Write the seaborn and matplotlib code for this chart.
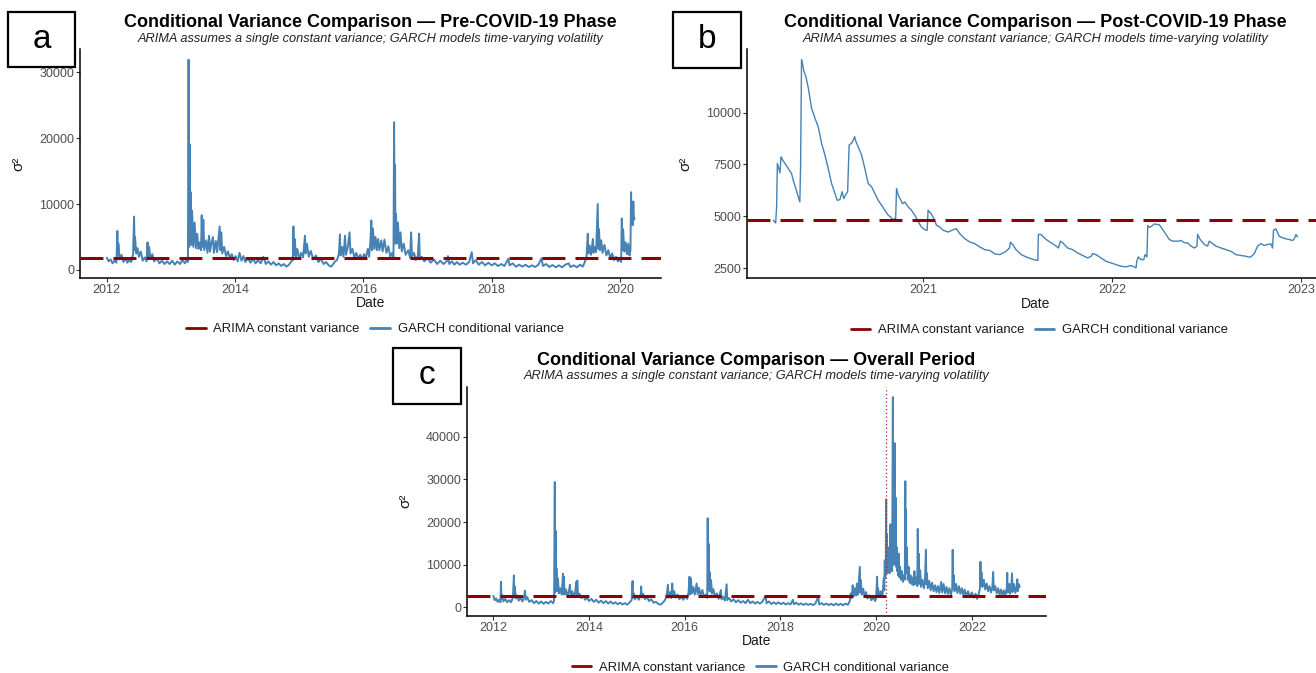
import matplotlib
matplotlib.use("Agg")
import matplotlib.pyplot as plt
import pandas as pd
import seaborn as sns
from matplotlib.lines import Line2D
from matplotlib.patches import Rectangle

# ---------------------------------------------------------------------------
# Conditional variance series (decimal years, sigma^2)
# ---------------------------------------------------------------------------
pre_year = [
    2012.00, 2012.03, 2012.06, 2012.09, 2012.12, 2012.15, 2012.165, 2012.175, 2012.18, 2012.20,
    2012.23, 2012.26, 2012.29, 2012.32, 2012.35, 2012.38, 2012.41, 2012.425, 2012.435, 2012.44,
    2012.46, 2012.48, 2012.50, 2012.53, 2012.56, 2012.59, 2012.62, 2012.635, 2012.645, 2012.66,
    2012.68, 2012.71, 2012.74, 2012.78, 2012.82, 2012.86, 2012.90, 2012.94, 2012.98, 2013.02,
    2013.06, 2013.10, 2013.14, 2013.18, 2013.22, 2013.25, 2013.265, 2013.275, 2013.285, 2013.29,
    2013.30, 2013.31, 2013.32, 2013.33, 2013.35, 2013.37, 2013.39, 2013.41, 2013.43, 2013.45,
    2013.47, 2013.48, 2013.49, 2013.505, 2013.52, 2013.55, 2013.57, 2013.595, 2013.61, 2013.63,
    2013.655, 2013.67, 2013.70, 2013.72, 2013.745, 2013.76, 2013.77, 2013.785, 2013.80, 2013.83,
    2013.86, 2013.89, 2013.92, 2013.95, 2013.98, 2014.01, 2014.04, 2014.07, 2014.10, 2014.13,
    2014.16, 2014.20, 2014.24, 2014.28, 2014.32, 2014.36, 2014.40, 2014.44, 2014.48, 2014.52,
    2014.56, 2014.60, 2014.64, 2014.68, 2014.72, 2014.76, 2014.80, 2014.84, 2014.87, 2014.90,
    2014.91, 2014.92, 2014.93, 2014.95, 2014.97, 2015.00, 2015.03, 2015.06, 2015.09, 2015.10,
    2015.12, 2015.15, 2015.18, 2015.22, 2015.26, 2015.30, 2015.34, 2015.38, 2015.42, 2015.46,
    2015.50, 2015.53, 2015.56, 2015.59, 2015.62, 2015.635, 2015.645, 2015.67, 2015.69, 2015.715,
    2015.73, 2015.76, 2015.785, 2015.80, 2015.83, 2015.86, 2015.89, 2015.92, 2015.95, 2015.98,
    2016.01, 2016.04, 2016.07, 2016.09, 2016.11, 2016.125, 2016.135, 2016.15, 2016.17, 2016.19,
    2016.21, 2016.23, 2016.25, 2016.28, 2016.30, 2016.33, 2016.36, 2016.39, 2016.42, 2016.45,
    2016.47, 2016.48, 2016.49, 2016.495, 2016.50, 2016.51, 2016.52, 2016.54, 2016.56, 2016.58,
    2016.60, 2016.63, 2016.66, 2016.70, 2016.73, 2016.745, 2016.76, 2016.79, 2016.82, 2016.85,
    2016.87, 2016.88, 2016.91, 2016.95, 2017.00, 2017.05, 2017.10, 2017.15, 2017.20, 2017.25,
    2017.30, 2017.32, 2017.34, 2017.38, 2017.42, 2017.46, 2017.50, 2017.55, 2017.60, 2017.65,
    2017.69, 2017.71, 2017.75, 2017.80, 2017.85, 2017.90, 2017.95, 2018.00, 2018.05, 2018.10,
    2018.15, 2018.20, 2018.26, 2018.28, 2018.33, 2018.38, 2018.43, 2018.48, 2018.53, 2018.58,
    2018.63, 2018.68, 2018.73, 2018.78, 2018.80, 2018.85, 2018.90, 2018.95, 2019.00, 2019.05,
    2019.10, 2019.15, 2019.20, 2019.23, 2019.28, 2019.33, 2019.38, 2019.42, 2019.45, 2019.48,
    2019.50, 2019.51, 2019.53, 2019.55, 2019.58, 2019.59, 2019.61, 2019.63, 2019.655, 2019.665,
    2019.675, 2019.69, 2019.71, 2019.73, 2019.76, 2019.79, 2019.82, 2019.85, 2019.88, 2019.91,
    2019.94, 2019.97, 2020.00, 2020.02, 2020.03, 2020.04, 2020.05, 2020.07, 2020.09, 2020.11,
    2020.13, 2020.15, 2020.165, 2020.175, 2020.18, 2020.19, 2020.20, 2020.21, 2020.22, 2020.23,
]
pre_var = [
    1850, 1300, 1600, 1000, 1400, 1100, 5900, 2200, 4000, 1600,
    2300, 1200, 1800, 1100, 1500, 1200, 2400, 8100, 3000, 5000,
    2500, 3300, 2000, 2800, 1400, 1900, 1300, 4200, 2000, 3500,
    1700, 2400, 1300, 1800, 1000, 1400, 900, 1300, 900, 1400,
    800, 1300, 900, 1500, 1000, 1700, 1200, 31900, 3500, 19100,
    4000, 11800, 3800, 9000, 3500, 7200, 3300, 5500, 3200, 4200,
    3000, 8300, 3500, 7600, 3000, 4500, 2600, 5200, 2800, 4000,
    5000, 2600, 4400, 2700, 5200, 6600, 3000, 5700, 2500, 3500,
    2100, 2800, 1800, 2400, 1500, 2100, 1300, 2600, 1400, 2100,
    1200, 1800, 1100, 1700, 1000, 1500, 1000, 2000, 900, 1300,
    800, 1200, 700, 1000, 600, 900, 500, 800, 1200, 1500,
    6600, 2200, 4700, 2000, 3200, 1700, 2600, 1900, 5200, 2500,
    4000, 2000, 2900, 1600, 2200, 1200, 1700, 900, 1200, 700,
    500, 900, 1300, 1500, 2500, 5400, 2200, 3500, 2000, 5200,
    2300, 3600, 5700, 2500, 3200, 1900, 2600, 1700, 2300, 1600,
    2400, 1800, 3200, 2000, 4200, 7500, 3000, 6300, 3200, 5000,
    3000, 4700, 3000, 4500, 2800, 4600, 2600, 3600, 2000, 2600,
    1800, 22400, 4000, 15900, 5000, 8500, 4000, 7200, 3300, 5700,
    2800, 4000, 2300, 3000, 1800, 5700, 2000, 2600, 1500, 2200,
    5500, 1600, 2000, 1300, 1800, 1100, 1600, 900, 1400, 900,
    1300, 2100, 900, 1300, 800, 1200, 800, 1100, 800, 1200,
    2700, 1000, 1500, 800, 1200, 700, 1100, 700, 1000, 600,
    900, 600, 1700, 700, 1000, 500, 800, 500, 800, 450,
    700, 450, 800, 1800, 600, 900, 450, 750, 400, 700,
    400, 800, 1000, 450, 700, 400, 800, 500, 1100, 2000,
    5500, 2500, 3700, 2300, 4700, 2600, 3500, 2700, 10000, 3200,
    6200, 3000, 4500, 2600, 3800, 2200, 3000, 1800, 2500, 1500,
    2000, 1300, 1700, 1200, 7800, 3000, 6200, 2800, 4200, 2400,
    4000, 2200, 3000, 11800, 7000, 8200, 6800, 10400, 7600, 7800,
]

post_year = [
    2020.206, 2020.219, 2020.224, 2020.228, 2020.233, 2020.242, 2020.247, 2020.256, 2020.268, 2020.286,
    2020.303, 2020.312, 2020.347, 2020.351, 2020.356, 2020.362, 2020.369, 2020.379, 2020.392, 2020.409,
    2020.427, 2020.444, 2020.462, 2020.480, 2020.497, 2020.515, 2020.533, 2020.545, 2020.559, 2020.571,
    2020.580, 2020.591, 2020.600, 2020.608, 2020.621, 2020.630, 2020.637, 2020.644, 2020.656, 2020.674,
    2020.691, 2020.709, 2020.727, 2020.744, 2020.762, 2020.780, 2020.797, 2020.815, 2020.827, 2020.841,
    2020.848, 2020.854, 2020.859, 2020.868, 2020.877, 2020.891, 2020.903, 2020.921, 2020.938, 2020.956,
    2020.974, 2020.991, 2021.009, 2021.021, 2021.026, 2021.044, 2021.056, 2021.071, 2021.088, 2021.106,
    2021.132, 2021.159, 2021.176, 2021.194, 2021.220, 2021.247, 2021.273, 2021.300, 2021.326, 2021.353,
    2021.379, 2021.406, 2021.439, 2021.457, 2021.462, 2021.474, 2021.492, 2021.519, 2021.545, 2021.571,
    2021.598, 2021.607, 2021.610, 2021.624, 2021.633, 2021.651, 2021.677, 2021.704, 2021.716, 2021.727,
    2021.739, 2021.765, 2021.792, 2021.818, 2021.845, 2021.871, 2021.889, 2021.898, 2021.915, 2021.942,
    2021.968, 2021.995, 2022.021, 2022.048, 2022.074, 2022.101, 2022.118, 2022.127, 2022.131, 2022.139,
    2022.153, 2022.168, 2022.175, 2022.185, 2022.189, 2022.198, 2022.210, 2022.224, 2022.238, 2022.250,
    2022.268, 2022.286, 2022.303, 2022.321, 2022.339, 2022.356, 2022.365, 2022.383, 2022.400, 2022.418,
    2022.436, 2022.450, 2022.453, 2022.467, 2022.489, 2022.506, 2022.515, 2022.527, 2022.550, 2022.577,
    2022.603, 2022.630, 2022.656, 2022.683, 2022.709, 2022.727, 2022.735, 2022.753, 2022.771, 2022.788,
    2022.806, 2022.824, 2022.841, 2022.850, 2022.855, 2022.868, 2022.885, 2022.903, 2022.921, 2022.938,
    2022.956, 2022.965, 2022.974, 2022.982,
]
post_var = [
    4810, 4680, 5450, 7550, 7390, 7100, 7870, 7710, 7550, 7300,
    7060, 6740, 5690, 7470, 12550, 12300, 11980, 11740, 11180, 10210,
    9730, 9320, 8520, 7950, 7310, 6580, 6100, 5770, 5800, 6180,
    5850, 6060, 6180, 8440, 8520, 8680, 8840, 8600, 8350, 7950,
    7310, 6580, 6420, 6100, 5770, 5530, 5290, 5050, 4970, 4810,
    4890, 4810, 6340, 6020, 5850, 5610, 5690, 5450, 5290, 5050,
    4730, 4480, 4350, 4320, 5290, 5100, 4890, 4560, 4480, 4320,
    4240, 4350, 4400, 4160, 3920, 3760, 3680, 3520, 3390, 3350,
    3190, 3150, 3310, 3470, 3750, 3640, 3390, 3150, 3040, 2950,
    2880, 2870, 4120, 4120, 4040, 3880, 3720, 3560, 3470, 3800,
    3720, 3470, 3390, 3230, 3110, 2990, 3070, 3200, 3150, 2990,
    2830, 2750, 2670, 2590, 2560, 2620, 2560, 2510, 2830, 3040,
    2910, 2910, 3150, 3040, 4550, 4470, 4520, 4630, 4600, 4600,
    4360, 4120, 3880, 3800, 3800, 3800, 3840, 3720, 3720, 3560,
    3470, 3560, 4120, 3880, 3640, 3560, 3800, 3720, 3560, 3470,
    3390, 3310, 3150, 3110, 3070, 3030, 3040, 3200, 3560, 3680,
    3590, 3640, 3670, 3470, 4330, 4390, 4040, 3960, 3910, 3880,
    3830, 3910, 4120, 4000,
]

all_year = [
    2012.00, 2012.03, 2012.06, 2012.09, 2012.12, 2012.15, 2012.16, 2012.17, 2012.18, 2012.21,
    2012.25, 2012.29, 2012.33, 2012.37, 2012.41, 2012.43, 2012.44, 2012.45, 2012.47, 2012.50,
    2012.53, 2012.57, 2012.61, 2012.65, 2012.66, 2012.68, 2012.71, 2012.75, 2012.80, 2012.85,
    2012.90, 2012.95, 2013.00, 2013.05, 2013.10, 2013.15, 2013.20, 2013.25, 2013.27, 2013.285,
    2013.29, 2013.30, 2013.31, 2013.32, 2013.33, 2013.35, 2013.37, 2013.40, 2013.43, 2013.455,
    2013.465, 2013.475, 2013.49, 2013.52, 2013.55, 2013.58, 2013.60, 2013.62, 2013.65, 2013.68,
    2013.71, 2013.735, 2013.745, 2013.755, 2013.77, 2013.80, 2013.84, 2013.88, 2013.92, 2013.96,
    2014.00, 2014.05, 2014.10, 2014.15, 2014.20, 2014.25, 2014.30, 2014.35, 2014.40, 2014.45,
    2014.50, 2014.55, 2014.60, 2014.65, 2014.70, 2014.75, 2014.80, 2014.85, 2014.89, 2014.91,
    2014.92, 2014.935, 2014.96, 2015.00, 2015.04, 2015.08, 2015.09, 2015.10, 2015.13, 2015.17,
    2015.21, 2015.25, 2015.30, 2015.35, 2015.40, 2015.45, 2015.50, 2015.54, 2015.58, 2015.62,
    2015.65, 2015.66, 2015.70, 2015.72, 2015.74, 2015.75, 2015.78, 2015.81, 2015.85, 2015.89,
    2015.93, 2015.97, 2016.01, 2016.05, 2016.08, 2016.10, 2016.11, 2016.13, 2016.15, 2016.18,
    2016.21, 2016.25, 2016.27, 2016.30, 2016.33, 2016.37, 2016.40, 2016.44, 2016.47, 2016.48,
    2016.49, 2016.50, 2016.51, 2016.52, 2016.53, 2016.55, 2016.57, 2016.60, 2016.63, 2016.67,
    2016.71, 2016.755, 2016.77, 2016.80, 2016.84, 2016.875, 2016.89, 2016.93, 2016.97, 2017.02,
    2017.07, 2017.12, 2017.17, 2017.22, 2017.27, 2017.32, 2017.37, 2017.42, 2017.47, 2017.52,
    2017.57, 2017.62, 2017.69, 2017.71, 2017.76, 2017.81, 2017.86, 2017.91, 2017.96, 2018.01,
    2018.06, 2018.11, 2018.16, 2018.21, 2018.26, 2018.28, 2018.33, 2018.38, 2018.43, 2018.48,
    2018.53, 2018.58, 2018.63, 2018.68, 2018.73, 2018.79, 2018.81, 2018.86, 2018.91, 2018.96,
    2019.01, 2019.06, 2019.11, 2019.16, 2019.21, 2019.26, 2019.31, 2019.36, 2019.41, 2019.45,
    2019.47, 2019.49, 2019.51, 2019.53, 2019.56, 2019.58, 2019.60, 2019.62, 2019.66, 2019.67,
    2019.68, 2019.70, 2019.73, 2019.76, 2019.79, 2019.82, 2019.86, 2019.90, 2019.94, 2019.98,
    2020.00, 2020.02, 2020.03, 2020.04, 2020.07, 2020.10, 2020.13, 2020.16, 2020.17, 2020.18,
    2020.19, 2020.20, 2020.21, 2020.215, 2020.22, 2020.23, 2020.25, 2020.26, 2020.27, 2020.28,
    2020.30, 2020.31, 2020.32, 2020.335, 2020.35, 2020.355, 2020.36, 2020.37, 2020.39, 2020.40,
    2020.41, 2020.42, 2020.43, 2020.44, 2020.45, 2020.46, 2020.47, 2020.49, 2020.50, 2020.52,
    2020.54, 2020.56, 2020.58, 2020.60, 2020.61, 2020.615, 2020.62, 2020.63, 2020.64, 2020.66,
    2020.68, 2020.70, 2020.72, 2020.74, 2020.76, 2020.78, 2020.80, 2020.82, 2020.84, 2020.86,
    2020.87, 2020.88, 2020.89, 2020.90, 2020.92, 2020.94, 2020.97, 2021.00, 2021.02, 2021.04,
    2021.05, 2021.06, 2021.08, 2021.11, 2021.14, 2021.17, 2021.20, 2021.23, 2021.26, 2021.29,
    2021.32, 2021.36, 2021.38, 2021.41, 2021.44, 2021.47, 2021.50, 2021.53, 2021.56, 2021.59,
    2021.60, 2021.61, 2021.62, 2021.64, 2021.67, 2021.70, 2021.73, 2021.76, 2021.79, 2021.82,
    2021.85, 2021.88, 2021.92, 2021.96, 2022.00, 2022.04, 2022.08, 2022.11, 2022.14, 2022.17,
    2022.18, 2022.19, 2022.20, 2022.22, 2022.25, 2022.28, 2022.31, 2022.34, 2022.37, 2022.40,
    2022.43, 2022.445, 2022.46, 2022.49, 2022.52, 2022.55, 2022.58, 2022.61, 2022.64, 2022.67,
    2022.70, 2022.73, 2022.74, 2022.75, 2022.78, 2022.80, 2022.83, 2022.84, 2022.85, 2022.88,
    2022.91, 2022.94, 2022.95, 2022.96, 2022.98, 2023.00,
]
all_var = [
    2700, 1700, 2100, 1300, 1800, 1200, 6000, 2000, 2900, 1400,
    2000, 1200, 1700, 1200, 2300, 7500, 2600, 4900, 2100, 2800,
    1600, 2200, 1400, 2600, 3900, 1800, 2400, 1300, 1700, 1000,
    1500, 900, 1400, 850, 1300, 900, 1500, 1000, 1600, 29400,
    3500, 18000, 4000, 9100, 3800, 6800, 3300, 4500, 3000, 7900,
    3200, 7200, 3000, 4200, 2700, 3700, 5300, 2600, 3800, 2500,
    3500, 6000, 3000, 6300, 2800, 3200, 2200, 2700, 1800, 2300,
    1500, 2000, 1300, 1800, 1100, 1600, 1000, 1500, 900, 1400,
    850, 1200, 750, 1100, 700, 1000, 650, 1200, 1700, 6200,
    2300, 3300, 1900, 2800, 1800, 3000, 4900, 2300, 3200, 1900,
    2600, 1500, 1900, 1100, 1300, 800, 650, 1100, 1600, 2500,
    5300, 2300, 3600, 2200, 5600, 2600, 3800, 2300, 3000, 1900,
    2600, 1800, 2700, 2000, 3500, 7200, 3000, 6800, 3300, 4800,
    3000, 5600, 3100, 4600, 2800, 4100, 2500, 3000, 2200, 20900,
    4000, 14900, 4500, 8300, 3700, 6400, 3200, 4300, 2600, 3300,
    2000, 4100, 1900, 2500, 1600, 5400, 1700, 2200, 1400, 1900,
    1200, 1700, 1100, 1500, 1000, 1800, 1000, 1400, 900, 1300,
    900, 1300, 2700, 1000, 1400, 800, 1200, 800, 1200, 750,
    1100, 700, 1000, 700, 1800, 750, 1100, 650, 950, 600,
    900, 600, 850, 550, 900, 2500, 700, 1000, 600, 900,
    550, 850, 500, 900, 550, 850, 500, 900, 600, 1500,
    3300, 2200, 5200, 2600, 4500, 2800, 5600, 3000, 9500, 3500,
    6400, 3000, 4400, 2600, 3600, 2100, 2800, 1700, 2300, 1500,
    2200, 7200, 2800, 4500, 2600, 3800, 2500, 6800, 4000, 11000,
    7000, 8700, 25300, 9000, 17200, 8000, 13000, 8700, 14100, 8000,
    19500, 9000, 11800, 8500, 49300, 12000, 27300, 10000, 38500, 11000,
    25700, 9500, 14100, 8500, 11000, 7500, 12600, 7000, 9500, 6500,
    8500, 6000, 7500, 6500, 29600, 8000, 23000, 8500, 14100, 6500,
    9500, 5800, 7500, 5500, 7000, 5200, 8500, 5500, 7000, 5000,
    18400, 6000, 12600, 5500, 8700, 4800, 6500, 4500, 6000, 13500,
    5500, 8000, 4500, 6200, 4000, 5800, 3800, 5200, 3600, 5000,
    3400, 6000, 3500, 5500, 3300, 4800, 3200, 4500, 3000, 4200,
    13500, 4500, 7600, 3800, 5500, 3400, 5000, 3200, 4500, 3000,
    4200, 2700, 3800, 2500, 3500, 2300, 3200, 2000, 3000, 4500,
    10700, 5600, 8300, 4800, 6500, 4200, 5600, 3800, 5000, 3500,
    4800, 8300, 4000, 5000, 3300, 4500, 3000, 4200, 2900, 4000,
    2800, 4500, 8100, 3500, 5500, 3200, 6000, 8000, 3600, 5500,
    3400, 5200, 6600, 3800, 5500, 4800,
]

# ARIMA residual variance (a single constant per sample) and the structural break
arima_pre = 1800
arima_post = 4840
arima_all = 2650
covid_break = 2020.21

titles = [
    "Conditional Variance Comparison \u2014 Pre-COVID-19 Phase",
    "Conditional Variance Comparison \u2014 Post-COVID-19 Phase",
    "Conditional Variance Comparison \u2014 Overall Period",
]
subtitle = "ARIMA assumes a single constant variance; GARCH models time-varying volatility"
legend_labels = ["ARIMA constant variance", "GARCH conditional variance"]
panel_tags = ["a", "b", "c"]

# ---------------------------------------------------------------------------
sns.set_theme(style="ticks")
plt.rcParams["font.family"] = ["Liberation Sans", "DejaVu Sans"]

BLUE = "#4682B4"
RED = "#8B0000"
W, H = 1316, 673
fig = plt.figure(figsize=(W / 100, H / 100), dpi=100)


def px_rect(x0, x1, ytop, ybot):
    return [x0 / W, 1 - ybot / H, (x1 - x0) / W, (ybot - ytop) / H]


def expanded(values, frac=0.05):
    lo, hi = min(values), max(values)
    pad = (hi - lo) * frac
    return lo - pad, hi + pad


def draw_panel(rect, years, var, arima, xticks, yticks, title, tag, tag_box,
               line_width, vline=None):
    ax = fig.add_axes(px_rect(*rect))
    df = pd.DataFrame({"Date": years, "sigma2": var})
    sns.lineplot(data=df, x="Date", y="sigma2", ax=ax, color=BLUE,
                 linewidth=line_width, estimator=None, zorder=2)
    ax.axhline(arima, color=RED, linewidth=2.2, linestyle=(0, (7.5, 3.3)),
               zorder=3)
    if vline is not None:
        ax.axvline(vline, color="#A52A2A", linewidth=0.9,
                   linestyle=(0, (1, 2)), zorder=4)
    ax.set_xlim(expanded(years))
    ax.set_ylim(expanded(var))
    ax.set_xticks(xticks)
    ax.set_xticklabels([str(t) for t in xticks])
    ax.set_yticks(yticks)
    ax.set_yticklabels([str(t) for t in yticks])
    for side in ("top", "right"):
        ax.spines[side].set_visible(False)
    for side in ("left", "bottom"):
        ax.spines[side].set_color("black")
        ax.spines[side].set_linewidth(1.1)
    ax.tick_params(axis="both", direction="out", length=2.8, width=0.8,
                   color="#333333", labelsize=9, labelcolor="#4D4D4D", pad=1.5)
    ax.grid(False)

    ax.set_xlabel("Date", fontsize=10, color="#1a1a1a")
    ax.xaxis.set_label_coords(0.5, -0.082)
    ax.set_ylabel("\u03c3\u00b2", fontsize=11, color="#1a1a1a")
    ax.yaxis.set_label_coords(-0.095, 0.5)

    ax.text(0.5, 1.1165, title, transform=ax.transAxes, ha="center",
            va="center", fontsize=13, fontweight="bold", color="black")
    ax.text(0.5, 1.046, subtitle, transform=ax.transAxes, ha="center",
            va="center", fontsize=9.2, style="italic", color="#222222")

    handles = [Line2D([], [], color=RED, linewidth=2.0),
               Line2D([], [], color=BLUE, linewidth=2.0)]
    ax.legend(handles, legend_labels, loc="center",
              bbox_to_anchor=(0.507, -0.226), ncol=2, frameon=False,
              fontsize=9.4, handlelength=1.5, handletextpad=0.6,
              columnspacing=0.8, labelcolor="#1a1a1a")

    bx0, by0, bx1, by1 = tag_box
    fig.add_artist(Rectangle((bx0 / W, 1 - by1 / H), (bx1 - bx0) / W,
                             (by1 - by0) / H, transform=fig.transFigure,
                             facecolor="white", edgecolor="black",
                             linewidth=1.6, zorder=10))
    fig.text((bx0 + bx1) / 2 / W, 1 - (by0 + by1) / 2 / H, tag,
             ha="center", va="center", fontsize=24, color="black", zorder=11)
    return ax


draw_panel((80.4, 661, 49.3, 277.7), pre_year, pre_var, arima_pre,
           [2012, 2014, 2016, 2018, 2020], [0, 10000, 20000, 30000],
           titles[0], panel_tags[0], (8, 12, 75, 67), line_width=1.4)
draw_panel((747, 1323.7, 49.3, 278.3), post_year, post_var, arima_post,
           [2021, 2022, 2023], [2500, 5000, 7500, 10000],
           titles[1], panel_tags[1], (673, 12, 741, 68), line_width=1.0)
draw_panel((467, 1046, 386.7, 615.7), all_year, all_var, arima_all,
           [2012, 2014, 2016, 2018, 2020, 2022],
           [0, 10000, 20000, 30000, 40000],
           titles[2], panel_tags[2], (393, 348, 461, 404), line_width=1.4,
           vline=covid_break)

fig.savefig("out.png", dpi=100)
